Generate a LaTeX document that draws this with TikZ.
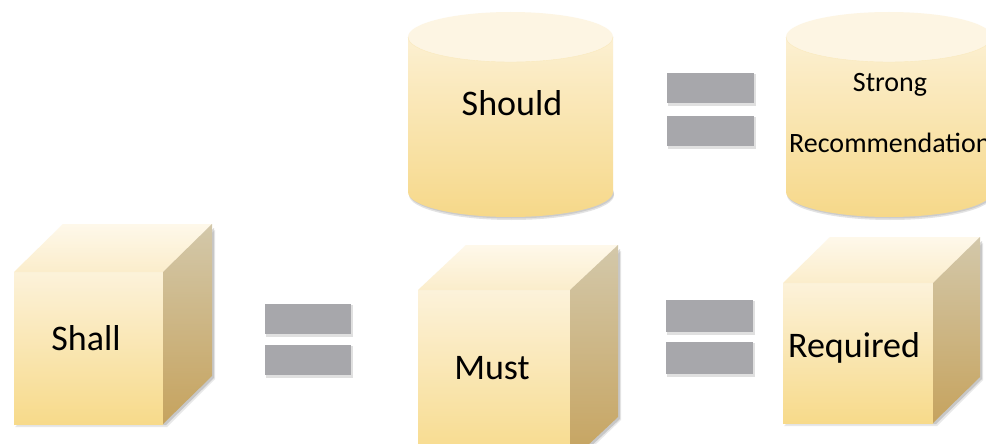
\documentclass[tikz,border=0pt]{standalone}
\usepackage{fontspec}
\setmainfont{Carlito}
\definecolor{ftop}{HTML}{FCF2DA}
\definecolor{fbot}{HTML}{F7DA8A}
\definecolor{ttop}{HTML}{FEF8EA}
\definecolor{tbot}{HTML}{FBEDCB}
\definecolor{stop}{HTML}{D3C8AA}
\definecolor{sbot}{HTML}{C6A35E}
\definecolor{ctop}{HTML}{FDF5E3}
\definecolor{cbtop}{HTML}{FCF0D2}
\definecolor{cbbot}{HTML}{F6D889}
\definecolor{barc}{HTML}{A7A7AB}
\newcommand\mycube[6]{%
  % shadow
  \fill[black!60,opacity=0.25] (#1+2,#4+1) -- (#3+3,#4+1) -- (#3+#5+2,#4+#6+2) -- (#3+#5+2,#2+#6+4) -- (#3+2,#2+4) -- cycle;
  \fill[black!60,opacity=0.15] (#1+1,#4+3) -- (#3+4,#4+3) -- (#3+#5+3,#4+#6+3) -- (#3+#5+3,#2+#6+6) -- (#3+3,#2+6) -- cycle;
  % front
  \shade[top color=ftop,bottom color=fbot] (#1,#2) rectangle (#3,#4);
  % top
  \shade[top color=ttop,bottom color=tbot] (#1,#2) -- (#1+#5,#2+#6) -- (#3+#5,#2+#6) -- (#3,#2) -- cycle;
  % side
  \shade[top color=stop,bottom color=sbot] (#3,#2) -- (#3+#5,#2+#6) -- (#3+#5,#4+#6) -- (#3,#4) -- cycle;
}
\newcommand\mycyl[5]{% left, right, topcy, botcy, ry
  \pgfmathsetmacro\rx{(#2-#1)/2}
  \pgfmathsetmacro\cx{(#1+#2)/2}
  \fill[black!55,opacity=0.2] (\cx+1,#4+3) ellipse[x radius=\rx pt, y radius=#5 pt];
  \fill[black!55,opacity=0.2] (\cx+1,#4+1.5) ellipse[x radius=\rx pt, y radius=#5 pt];
  \shade[top color=cbtop,bottom color=cbbot] (#1,#3) -- (#1,#4) arc[start angle=180,end angle=360,x radius=\rx pt,y radius=#5 pt] -- (#2,#3) -- cycle;
  \fill[ctop] (\cx,#3) ellipse[x radius=\rx pt, y radius=#5 pt];
  \draw[cbtop!70!fbot,line width=0.4pt] (#1,#3) arc[start angle=180,end angle=360,x radius=\rx pt,y radius=#5 pt];
}
\newcommand\myeq[5]{% left right y1 y2 gap
  \fill[black!40,opacity=0.3] (#1+1,#3+1) rectangle (#2+2,#4+3);
  \fill[black!40,opacity=0.3] (#1+1,#4+#5+1) rectangle (#2+2,#4+#5+#4-#3+3);
  \fill[barc] (#1,#3) rectangle (#2,#4);
  \fill[barc] (#1,#4+#5) rectangle (#2,#4+#5+#4-#3);
}
\begin{document}
\begin{tikzpicture}[x=1pt,y=-1pt,
  big/.style={font=\fontsize{36}{40}\selectfont, inner sep=0pt},
  small/.style={font=\fontsize{28}{32}\selectfont, inner sep=0pt}]
\useasboundingbox (0,0) rectangle (986,444);
\fill[white] (0,0) rectangle (986,444);
% cylinders
\mycyl{408}{613}{37}{192}{25}
\mycyl{786}{992}{37}{192}{25}
% cubes
\mycube{14}{272}{163}{424}{49}{-48}
\mycube{418}{290}{570}{462}{48}{-45}
\mycube{783}{283}{933}{423}{47}{-46}
% equal signs
\myeq{667}{754}{73}{103}{13}
\myeq{265}{351}{304}{334}{11}
\myeq{666}{753}{300}{332}{10}
% labels
\node[big] (should) at (512,103) {Should};
\node[small] (strong) at (890,85) {Strong};
\node[small,anchor=west] (recom) at (789,143) {Recommendation};
\node[big] (shall) at (86,338) {Shall};
\node[big] (must) at (492,368) {Must};
\node[big] (required) at (854,348) {Required};
\end{tikzpicture}
\end{document}
